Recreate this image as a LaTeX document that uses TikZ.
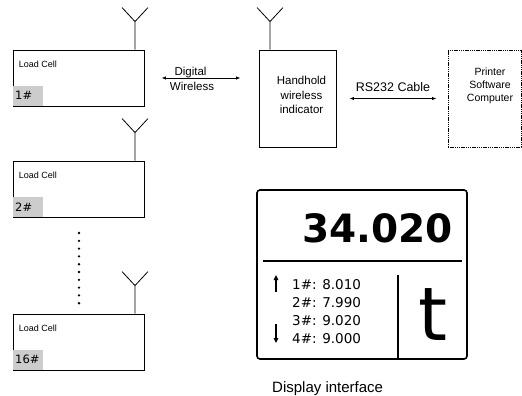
\documentclass[tikz,border=0pt]{standalone}
\usepackage{fontspec}
\setmainfont{Liberation Sans}
\newfontfamily\dejavu{DejaVu Sans}
\usetikzlibrary{arrows.meta, positioning, calc}

\begin{document}
\begin{tikzpicture}[
  x=1pt, y=-1pt,
  cell/.style={
    draw, line width=0.9pt, inner sep=0pt,
    minimum width=131pt, minimum height=56pt
  },
  celltext/.style={anchor=base west, inner sep=0pt, font=\fontsize{9}{11}\selectfont},
  tag/.style={
    anchor=south west, fill=gray!40, inner xsep=2pt, inner ysep=0pt,
    text width=26pt, align=left, minimum height=20pt,
    font=\dejavu\fontsize{11.5}{13}\selectfont
  },
  unitbox/.style={draw, line width=0.9pt, inner sep=0pt, minimum width=77pt, minimum height=97pt},
  lbl/.style={inner sep=0pt, align=center},
  ant/.style={line width=0.8pt},
  arr/.style={{Latex[length=4.5pt,width=3.5pt]}-{Latex[length=4.5pt,width=3.5pt]}, line width=0.8pt},
  updown/.style={-{Triangle[length=5pt,width=4.5pt]}, line width=1.4pt},
  reading/.style={anchor=base west, inner sep=0pt, font=\dejavu\fontsize{13.5}{16}\selectfont},
]
\useasboundingbox (0,0) rectangle (522,396);

%% Load cells (left column)
\node[cell] (cell1)  at (78.5,78)  {};
\node[cell] (cell2)  at (78.5,189) {};
\node[cell] (cell16) at (78.5,342) {};

\node[celltext] (name1)  at ([xshift=6pt,yshift=-18pt]cell1.north west)  {Load Cell};
\node[celltext] (name2)  at ([xshift=6pt,yshift=-18pt]cell2.north west)  {Load Cell};
\node[celltext] (name16) at ([xshift=6pt,yshift=-18pt]cell16.north west) {Load Cell};

\node[tag] (tag1)  at ([shift={(0.5pt,0.5pt)}]cell1.south west)  {1\#};
\node[tag] (tag2)  at ([shift={(0.5pt,0.5pt)}]cell2.south west)  {2\#};
\node[tag] (tag16) at ([shift={(0.5pt,0.5pt)}]cell16.south west) {16\#};

%% Antennas
\draw[ant] (cell1.north -| 135,0) -- ++(0,-28) coordinate (ant1) -- ++(-13,-14) (ant1) -- ++(13,-14);
\draw[ant] (cell2.north -| 135,0) -- ++(0,-28) coordinate (ant2) -- ++(-13,-14) (ant2) -- ++(13,-14);
\draw[ant] (cell16.north -| 135,0) -- ++(0,-28) coordinate (ant16) -- ++(-13,-14) (ant16) -- ++(13,-14);

%% Dots between cell 2 and cell 16
\foreach \k in {0,...,9}
  \fill (79,233+7.8*\k) circle (1.3pt);

%% Indicator and printer
\node[unitbox] (hand) at (297.5,98.5) {};
\node[lbl, font=\fontsize{11.5}{14.5}\selectfont] (handtxt) at (301.5,95)
  {Handhold\\wireless\\indicator};
\draw[ant] (hand.north -| 270,0) -- ++(0,-28) coordinate (anth) -- ++(-13,-14) (anth) -- ++(13,-14);

\node[unitbox, minimum width=73pt, dash pattern=on 1.4pt off 0.8pt] (printer) at (484.5,98.5) {};
\node[lbl, font=\fontsize{10.5}{13}\selectfont] (printtxt) at (490,86)
  {Printer\\Software\\Computer};

%% Links
\draw[arr] ([xshift=17pt]cell1.east) -- ([xshift=-18pt]cell1.east -| hand.west);
\node[lbl, anchor=base, font=\fontsize{11.5}{13}\selectfont] (digital)  at (190.5,75) {Digital};
\node[lbl, anchor=base, font=\fontsize{11.5}{13}\selectfont] (wireless) at (192,91)   {Wireless};

\draw[arr] ([xshift=13pt]hand.east) -- ([xshift=-11pt]printer.west);
\node[lbl, anchor=base, font=\fontsize{12.5}{14}\selectfont] (cable) at (393,92) {RS232 Cable};

%% Display interface
\node[draw, rounded corners=3pt, line width=1.6pt, inner sep=0pt,
      minimum width=210pt, minimum height=169pt] (disp) at (362,274.5) {};
\coordinate (sepL) at (263,261);
\coordinate (sepR) at (462,261);
\draw[line width=2.3pt] (sepL) -- (sepR);
\coordinate (divT) at (398,275);
\draw[line width=1.6pt] (divT) -- (divT |- disp.south);

\node[anchor=base east, inner sep=0pt, font=\dejavu\bfseries\fontsize{39}{44}\selectfont] (total) at (453,242) {34.020};
\node[anchor=base, inner sep=0pt, font=\dejavu\fontsize{74}{80}\selectfont] (unit) at (433,340) {t};

\foreach \v [count=\i] in {8.010,7.990,9.020,9.000}
  \node[reading] (read\i) at (292,271+18*\i) {\i\#: \v};

\coordinate (upA) at (276,292);
\coordinate (upB) at (276,275);
\coordinate (dnA) at (276,324);
\coordinate (dnB) at (276,343);
\draw[updown] (upA) -- (upB);
\draw[updown] (dnA) -- (dnB);

\node[anchor=base west, inner sep=0pt, font=\fontsize{15}{18}\selectfont] (caption) at (272,392) {Display interface};
\end{tikzpicture}
\end{document}
